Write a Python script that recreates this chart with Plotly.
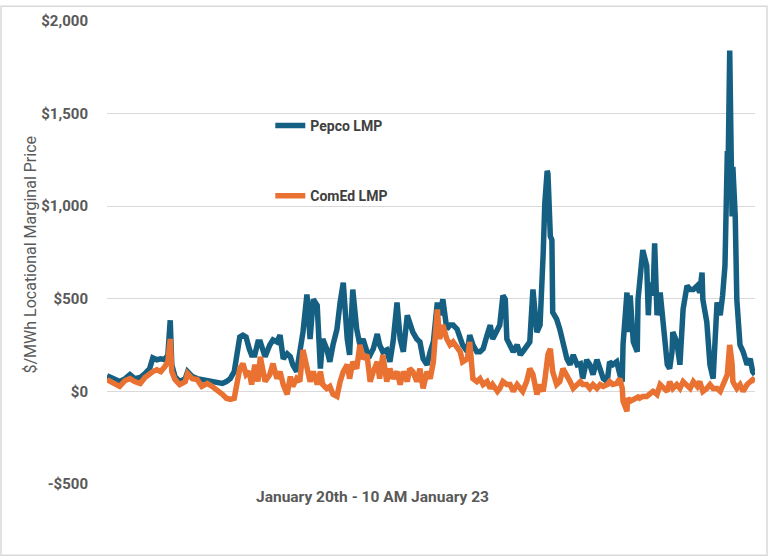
import plotly.graph_objects as go

# Hours since start of Jan 20 (00:00) through 10 AM Jan 23
hours = [0.0, 0.4, 1.0, 1.6, 2.3, 2.9, 3.5, 4.2, 4.8, 5.4, 5.8, 6.3, 6.8, 7.3, 7.7, 8.0, 8.2, 8.6,
         9.2, 9.9, 10.2, 10.8, 11.4, 12.0, 12.7, 13.3, 13.9, 14.6, 15.1, 15.6, 16.1, 16.5, 16.8,
         17.2, 17.6, 18.0, 18.3, 18.7, 19.1, 19.4, 20.0, 20.6, 21.0, 21.5, 21.9, 22.3, 22.8, 23.2,
         23.5, 24.0, 24.4, 24.8, 25.3, 25.7, 26.1, 26.6, 27.0, 27.3, 27.8, 28.2, 28.6, 29.1, 29.5,
         29.9, 30.4, 30.7, 31.1, 31.6, 32.0, 32.4, 32.9, 33.3, 33.7, 34.2, 34.5, 34.9, 35.4, 35.8,
         36.2, 36.7, 37.1, 37.5, 38.0, 38.3, 38.7, 39.2, 39.6, 40.0, 40.5, 40.9, 41.3, 41.8, 42.1,
         42.5, 43.0, 43.4, 43.8, 44.3, 44.7, 45.0, 45.6, 45.9, 46.3, 46.8, 47.2, 47.6, 48.1, 48.5,
         48.8, 49.4, 49.7, 50.1, 50.4, 50.6, 51.0, 51.4, 51.9, 52.3, 52.6, 53.1, 53.5, 53.9, 54.4,
         54.8, 55.0, 55.2, 55.4, 55.7, 55.8, 56.1, 56.3, 56.4, 56.9, 57.3, 57.7, 58.2, 58.6, 59.0,
         59.5, 59.9, 60.2, 60.7, 61.1, 61.5, 62.0, 62.4, 62.8, 63.3, 63.6, 64.0, 64.5, 64.9, 65.2,
         65.3, 65.8, 65.9, 66.2, 66.6, 67.1, 67.2, 67.4, 67.8, 68.3, 68.5, 68.7, 69.1, 69.3, 69.6,
         70.0, 70.4, 70.9, 71.2, 71.5, 71.6, 72.1, 72.5, 72.9, 73.4, 73.8, 74.2, 74.7, 75.0, 75.3,
         75.4, 75.9, 76.3, 76.7, 77.2, 77.6, 77.9, 78.2, 78.5, 78.6, 78.8, 79.1, 79.2, 79.5, 79.7,
         80.1, 80.5, 81.0, 81.4, 81.7, 82.0]

pepco_lmp = [85, 75, 64, 53, 69, 91, 69, 75, 96, 123, 181, 171, 176, 171, 197, 384, 144, 80,
             53, 69, 107, 80, 69, 64, 59, 53, 48, 43, 53, 69, 107, 230, 294,
             304, 294, 230, 197, 197, 267, 267, 187, 251, 278, 267, 304, 176, 203, 187,
             144, 107, 197, 320, 523, 283, 497, 464, 123, 283, 230, 160, 251, 336, 480,
             587, 283, 197, 550, 336, 251, 283, 214, 197, 230, 310, 251, 214, 224, 160,
             267, 480, 283, 214, 411, 374, 320, 283, 267, 176, 144, 214, 267, 480, 411,
             497, 336, 358, 358, 336, 283, 251, 214, 304, 251, 214, 214, 230, 304, 358,
             283, 336, 358, 518, 497, 283, 251, 214, 251, 197, 214, 251, 267, 550, 320,
             358, 694, 748, 1015, 1191, 1175, 838, 817, 427, 390, 336, 251, 176, 144, 197,
             144, 150, 69, 170, 144, 91, 171, 123, 69, 53, 160, 144, 160, 91, 53,
             251, 534, 320, 518, 267, 214, 497, 587, 763, 678, 411, 587, 518, 800, 411,
             534, 320, 144, 123, 214, 320, 267, 144, 443, 571, 550, 550, 571, 534, 641,
             497, 374, 144, 69, 480, 411, 518, 678, 1298, 1212, 1840, 945, 1212, 945, 497,
             251, 214, 144, 176, 107, 91]

comed_lmp = [64, 53, 43, 27, 59, 69, 53, 43, 75, 96, 107, 117, 107, 133, 160, 283, 107, 64,
             37, 53, 96, 69, 64, 27, 43, 27, 11, -16, -37, -43, -37, 53, 123,
             150, 91, 107, 37, 144, 53, 187, 53, 91, 150, 69, 107, 37, -16, 80,
             27, 69, 53, 224, 107, 53, 107, 37, 107, 37, 16, 27, -16, -27, 53,
             107, 144, 69, 160, 123, 251, 176, 197, 53, 107, 160, 69, 197, 53, 123,
             69, 107, 37, 107, 53, 123, 107, 53, 123, 16, 107, 69, 160, 443, 283,
             358, 283, 251, 267, 230, 214, 160, 176, 267, 69, 53, 69, 37, 53, 16,
             37, 0, 16, 53, 45, 37, 37, 0, 37, 16, 0, 53, 123, 91, -16,
             37, 20, 0, 60, 144, 200, 230, 170, 107, 37, 53, 123, 91, 53, 16,
             37, 53, 37, 37, 16, 37, 16, 37, 27, 37, 53, 37, 43, 69, 16,
             -53, -107, -37, -53, -43, -37, -30, -37, -27, -27, -20, -16, 0, -5, -16,
             37, 16, 0, 53, 30, 16, 37, 16, 53, 37, 16, 53, 27, 53, 20,
             0, 16, 37, 16, 16, 0, 37, 60, 91, 150, 251, 150, 53, 30, 16,
             37, 0, 37, 53, 64, 53]

y_ticks = [-500, 0, 500, 1000, 1500, 2000]
y_tick_labels = ["-$500", "$0", "$500", "$1,000", "$1,500", "$2,000"]

BLUE = "#156082"
ORANGE = "#E97132"
TXT = "#595959"
FONT = "Roboto"

fig = go.Figure()
fig.add_trace(go.Scatter(x=hours, y=pepco_lmp, mode="lines", name="Pepco LMP",
                         line=dict(color=BLUE, width=5.5), legend="legend"))
fig.add_trace(go.Scatter(x=hours, y=comed_lmp, mode="lines", name="ComEd LMP",
                         line=dict(color=ORANGE, width=5.5), legend="legend2"))

legend_style = dict(bgcolor="rgba(0,0,0,0)", borderwidth=0,
                    font=dict(family=FONT, size=14, color="#404040", weight="bold"),
                    xanchor="left", yanchor="middle", itemwidth=30)

fig.update_layout(
    width=768, height=557,
    margin=dict(l=107, r=13, t=16, b=73),
    paper_bgcolor="white", plot_bgcolor="white",
    showlegend=True,
    legend=dict(x=0.252, y=(484 - 122) / 468, **legend_style),
    legend2=dict(x=0.252, y=(484 - 193) / 468, **legend_style),
    xaxis=dict(range=[0, 82], showgrid=False, showticklabels=False, zeroline=False,
               showline=False, ticks=""),
    yaxis=dict(range=[-500, 2000], tickvals=y_ticks, ticktext=y_tick_labels,
               showgrid=True, gridcolor="#D9D9D9", gridwidth=1, zeroline=False,
               showline=False, ticks="", ticklabelstandoff=18,
               tickfont=dict(family=FONT, size=15, color=TXT, weight="bold")),
    annotations=[
        dict(text="$/MWh Locational Marginal Price", textangle=-90,
             xref="paper", yref="paper", x=(30 - 107) / 648, y=(484 - 252) / 468,
             xanchor="center", yanchor="middle", showarrow=False,
             font=dict(family=FONT, size=16, color=TXT)),
        dict(text="January 20th - 10 AM January 23",
             xref="paper", yref="paper", x=(372 - 107) / 648, y=(484 - 497) / 468,
             xanchor="center", yanchor="middle", showarrow=False,
             font=dict(family=FONT, size=15.5, color=TXT, weight="bold")),
    ],
    shapes=[dict(type="rect", xref="paper", yref="paper",
                 x0=(1 - 107) / 648, x1=(767 - 107) / 648,
                 y0=(484 - 556) / 468, y1=(484 - 1) / 468,
                 line=dict(color="#D9D9D9", width=1.5), layer="below")],
)

fig.write_html("out.html")
